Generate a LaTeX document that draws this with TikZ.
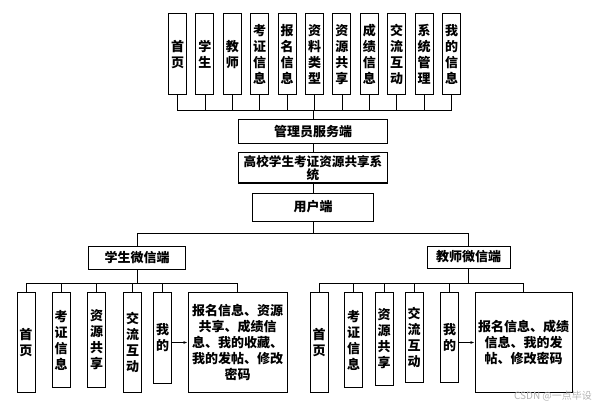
\documentclass[tikz,border=0pt]{standalone}
\usepackage{fontspec}
\newfontfamily\cjk{Noto Sans CJK SC}
\usetikzlibrary{arrows.meta}

\begin{document}
\begin{tikzpicture}[x=1pt,y=-1pt,line width=0.8pt,
    box/.style={draw,line width=1pt,inner sep=1pt,align=center,
      font=\cjk\bfseries\fontsize{13}{16}\selectfont},
    col/.style={box,minimum width=18pt,text width=14pt}]
    \useasboundingbox (0,0) rectangle (599,406);
    % admin side
    \foreach \t [count=\i from 0] in {{首\\页},{学\\生},{教\\师},{考\\证\\信\\息},{报\\名\\信\\息},{资\\料\\类\\型},{资\\源\\共\\享},{成\\绩\\信\\息},{交\\流\\互\\动},{系\\统\\管\\理},{我\\的\\信\\息}}
    \node[col,minimum height=81pt] (t\i) at (177.5+27.4*\i,54.5) {\t};
    \coordinate (bus) at (313,110);
    \foreach \i in {0,...,10}
    \draw (t\i.south) |- (bus);
    \node[box,minimum width=149pt,minimum height=24pt] (admin) at (313,132) {管理员服务端};
    \node[box,text width=145pt,inner sep=2pt,minimum height=30pt,
      font=\cjk\bfseries\fontsize{12.6}{13.5}\selectfont] (sys) at (313,168) {高校学生考证资源共享系\\统};
    \node[box,minimum width=121pt,minimum height=28pt] (user) at (313,207) {用户端};
    \draw (bus) -- (admin);
    \draw (admin) -- (sys);
    \draw (sys) -- (user);
    \coordinate (split) at (313,233);
    \draw (user) -- (split);
    \node[box,minimum width=97pt,minimum height=23pt] (stu) at (137,257.5) {学生微信端};
    \node[box,minimum width=83pt,minimum height=22pt] (tea) at (468.5,257) {教师微信端};
    \draw (split) -| (stu);
    \draw (split) -| (tea);
    % student side
    \node[col,anchor=north,minimum height=100pt] (s1) at (26,292) {首\\页};
    \node[col,anchor=north,minimum height=95pt] (s2) at (61,292) {考\\证\\信\\息};
    \node[col,anchor=north,minimum height=95pt] (s3) at (96.5,292) {资\\源\\共\\享};
    \node[col,anchor=north,minimum height=100pt] (s4) at (132.5,292) {交\\流\\互\\动};
    \node[col,anchor=north,minimum height=91pt] (s5) at (162.5,292) {我\\的};
    \node[box,anchor=north,text width=95pt,inner sep=2pt,minimum height=100pt] (sbig) at (237.5,292)
      {报名信息、资源\\共享、成绩信\\息、我的收藏、\\我的发帖、修改\\密码};
    \coordinate (sbus) at (137,283);
    \draw (stu) -- (sbus);
    \foreach \n in {s1,s2,s3,s4,s5,sbig}
    \draw (sbus) -| (\n.north);
    \draw[-{Latex[length=4pt,width=3pt]}] (s5.east |- sbig.west) -- (sbig.west);
    % teacher side
    \node[col,anchor=north,minimum height=100pt] (r1) at (319,292) {首\\页};
    \node[col,anchor=north,minimum height=95pt] (r2) at (353.5,292) {考\\证\\信\\息};
    \node[col,anchor=north,minimum height=93pt] (r3) at (384,292) {资\\源\\共\\享};
    \node[col,anchor=north,minimum height=90pt] (r4) at (414,292) {交\\流\\互\\动};
    \node[col,anchor=north,minimum height=90pt] (r5) at (449.5,292) {我\\的};
    \node[box,anchor=north,text width=93pt,inner sep=2pt,minimum height=100pt] (rbig) at (523.5,292)
      {报名信息、成绩\\信息、我的发\\帖、修改密码};
    \coordinate (rbus) at (468.5,283);
    \draw (tea) -- (rbus);
    \foreach \n in {r1,r2,r3,r4,r5,rbig}
    \draw (rbus) -| (\n.north);
    \draw[-{Latex[length=4pt,width=3pt]}] (r5.east |- rbig.west) -- (rbig.west);
    \node[text=gray!60,font=\cjk\fontsize{10}{12}\selectfont] (mark) at (553,396) {CSDN @一点毕设};
\end{tikzpicture}
\end{document}
